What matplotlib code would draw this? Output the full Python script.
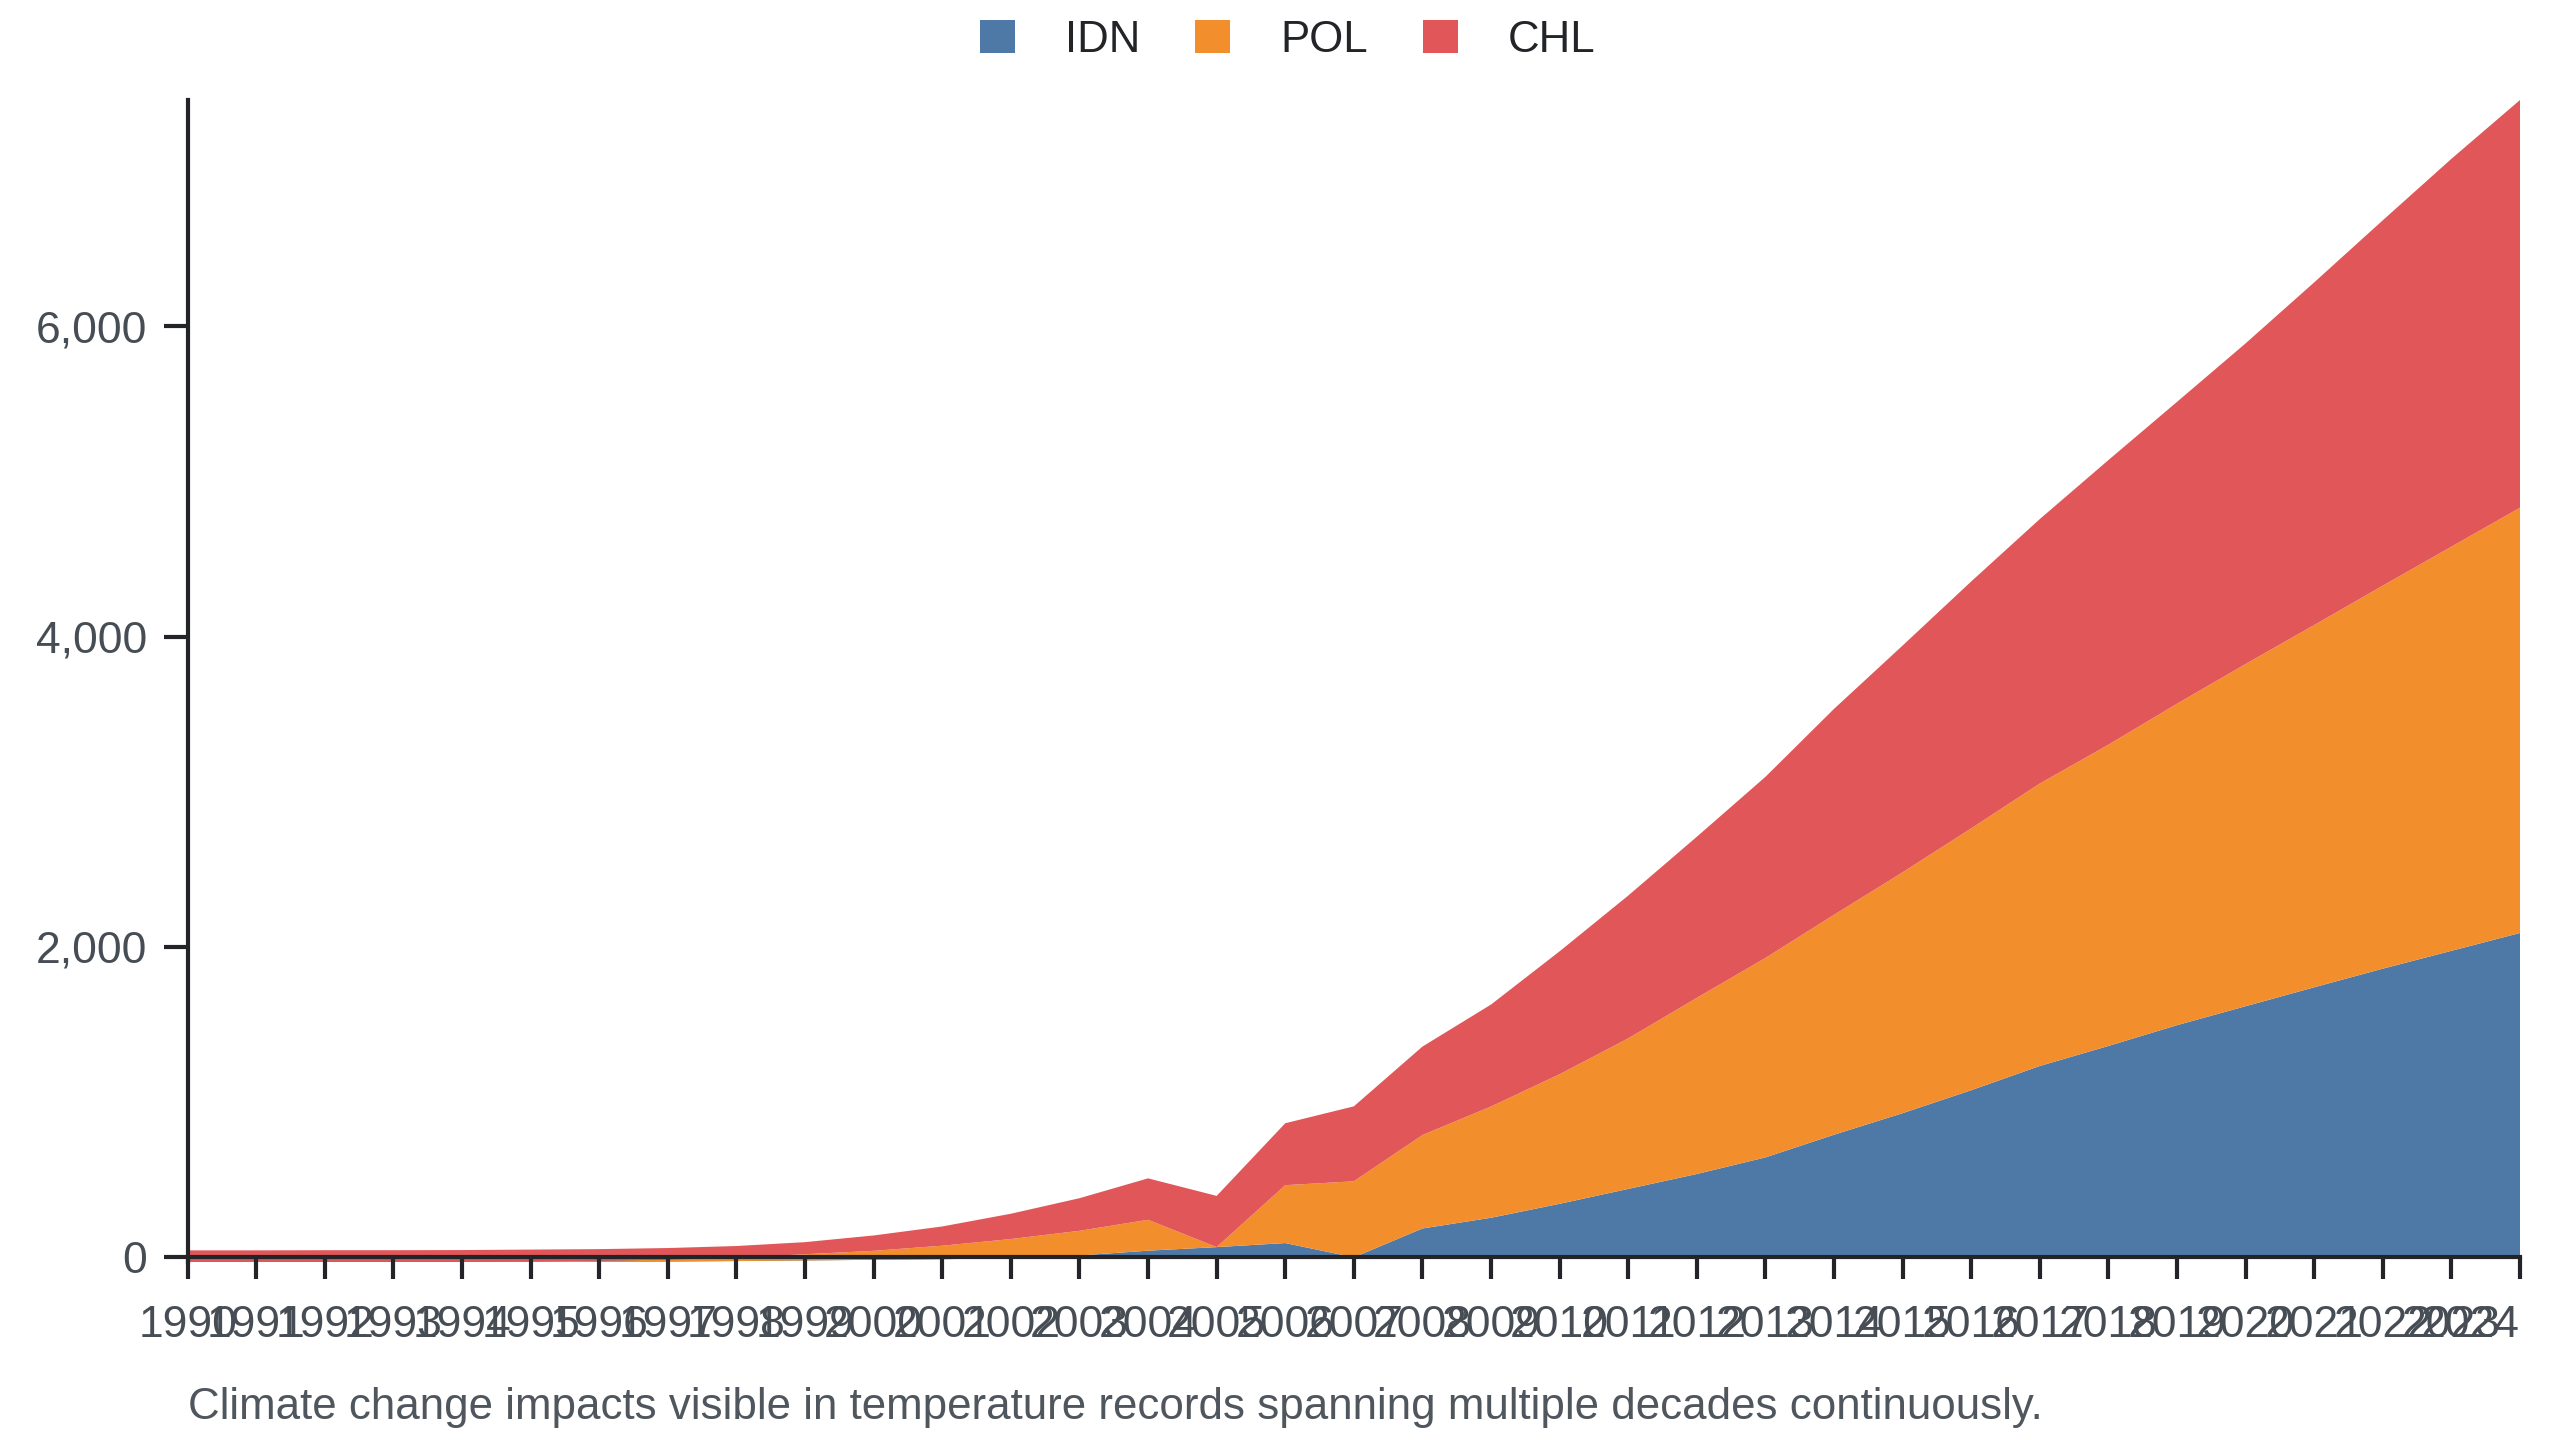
import matplotlib
matplotlib.use("Agg")
import matplotlib.pyplot as plt
from matplotlib.patches import Patch

# values
years = list(range(1990, 2025))
idn = [-30, -30, -30, -30, -30, -30, -29, -27, -24, -20, -16, -12, -6, 12, 43,
       66, 92, 0, 186, 255, 345, 441, 537, 644, 790, 929, 1077, 1233, 1362,
       1496, 1618, 1740, 1860, 1975, 2090]
pol = [0, 0, 1, 1, 2, 4, 7, 13, 22, 40, 58, 87, 124, 159, 199,
       0, 373, 490, 602, 717, 835, 970, 1135, 1285, 1417, 1552, 1687, 1820, 1941,
       2071, 2205, 2334, 2468, 2604, 2740]
chl = [75, 75, 75, 75, 75, 76, 75, 74, 75, 78, 99, 124, 163, 210, 267,
       330, 399, 483, 570, 657, 792, 920, 1038, 1167, 1327, 1461, 1591, 1704, 1834,
       1945, 2066, 2208, 2354, 2499, 2627]
names = ["IDN", "POL", "CHL"]
colors = ["#4e79a7", "#f28e2b", "#e15759"]
yticks = [0, 2000, 4000, 6000]
caption = "Climate change impacts visible in temperature records spanning multiple decades continuously."

plt.rcParams['font.family'] = ['Liberation Sans', 'DejaVu Sans']

fig = plt.figure(figsize=(25.6, 14.4), dpi=100)
ax = fig.add_axes([187.7 / 2560, 1 - 1262 / 1440, (2520 - 187.7) / 2560, (1262 - 100) / 1440])

ax.stackplot(years, idn, pol, chl, colors=colors, linewidth=0, antialiased=True)

totals = [a + b + c for a, b, c in zip(idn, pol, chl)]
ax.set_xlim(years[0], years[-1])
ax.set_ylim(-30, max(totals))

ax.spines['top'].set_visible(False)
ax.spines['right'].set_visible(False)
ax.spines['bottom'].set_position(('data', 0))
for s in ['left', 'bottom']:
    ax.spines[s].set_linewidth(3)
    ax.spines[s].set_color('#222428')

ax.set_xticks(years)
ax.set_xticklabels([str(y) for y in years])
ax.set_yticks(yticks)
ax.set_yticklabels(['{:,}'.format(v) for v in yticks])
ax.tick_params(axis='x', length=16, width=3, color='#222428', labelsize=32,
               labelcolor='#474d54', pad=18)
ax.tick_params(axis='y', length=17, width=3, color='#222428', labelsize=32,
               labelcolor='#474d54', pad=12)
# last year label is kept inside the chart, flush with its tick
ax.get_xticklabels()[-1].set_horizontalalignment('right')

handles = [Patch(facecolor=c, edgecolor='none') for c in colors]
fig.legend(handles, names, loc='center', bbox_to_anchor=(0.503, 1 - 40 / 1440), ncol=3,
           frameon=False, fontsize=31.5, handlelength=0.8, handleheight=0.8,
           handletextpad=1.15, columnspacing=1.25, labelcolor='#222428')

fig.text(188 / 2560, 1 - 1407 / 1440, caption, ha='left', va='center',
         fontsize=31.6, color='#50565d')

fig.savefig("out.png", dpi=100)
